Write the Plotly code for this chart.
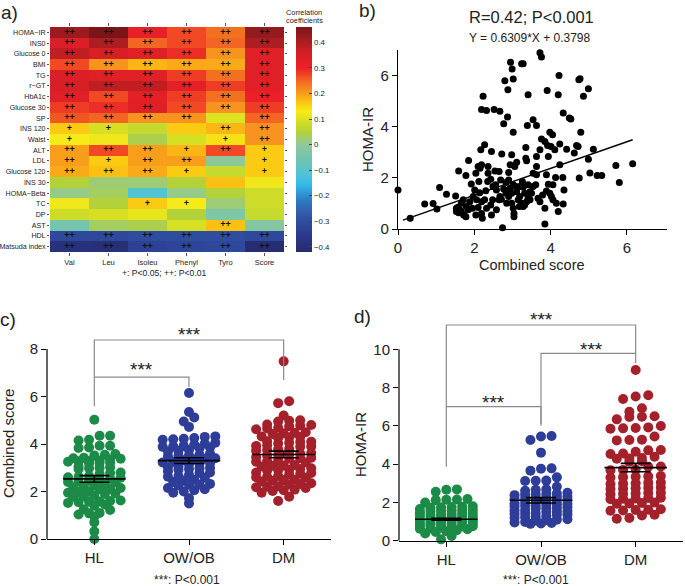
import math
import numpy as np
import plotly.graph_objects as go

W, H = 685, 586
FONT = "Liberation Sans, Arial, Helvetica, sans-serif"

# ---------------- Panel a data ----------------
heat_rows = ["HOMA\u2212IR", "INS0", "Glucose 0", "BMI", "TG", "r\u2212GT", "HbA1c", "Glucose 30", "SP",
             "INS 120", "Waist", "ALT", "LDL", "Glucose 120", "INS 30", "HOMA\u2212Beta", "TC", "DP",
             "AST", "HDL", "Matsuda index"]
heat_cols = ["Val", "Leu", "Isoleu", "Phenyl", "Tyro", "Score"]

r_val = [0.42, 0.34, 0.38, 0.27, 0.34, 0.35, 0.33, 0.28, 0.26, 0.16, 0.13, 0.20, 0.20, 0.19, 0.05, 0.01, 0.12, 0.08, -0.05, -0.31, -0.39]
r_leu = [0.46, 0.40, 0.35, 0.21, 0.33, 0.38, 0.27, 0.29, 0.25, 0.09, 0.12, 0.27, 0.16, 0.17, 0.02, 0.03, 0.05, 0.09, 0.03, -0.31, -0.40]
r_isoleu = [0.31, 0.25, 0.33, 0.18, 0.33, 0.38, 0.32, 0.33, 0.21, 0.07, 0.04, 0.20, 0.20, 0.19, 0.02, -0.11, 0.16, 0.11, 0.04, -0.30, -0.33]
r_phenyl = [0.27, 0.27, 0.29, 0.19, 0.28, 0.32, 0.28, 0.27, 0.21, 0.16, 0.09, 0.18, 0.20, 0.16, 0.05, 0.01, 0.13, 0.05, 0.09, -0.30, -0.32]
r_tyro = [0.24, 0.25, 0.21, 0.19, 0.24, 0.28, 0.24, 0.21, 0.10, 0.18, 0.14, 0.27, 0.00, 0.07, 0.17, 0.05, 0.02, -0.03, 0.17, -0.30, -0.31]
r_score = [0.43, 0.40, 0.33, 0.33, 0.33, 0.33, 0.30, 0.28, 0.25, 0.21, 0.21, 0.16, 0.16, 0.16, 0.12, 0.08, 0.08, 0.07, -0.02, -0.31, -0.41]

s_val = ["++"] * 9 + ["+", "+", "++", "++", "++", "", "", "", "", "", "++", "++"]
s_leu = ["++"] * 9 + ["+", "", "++", "+", "++", "", "", "", "", "", "++", "++"]
s_isoleu = ["++"] * 9 + ["", "", "++", "++", "++", "", "", "+", "", "", "++", "++"]
s_phenyl = ["++"] * 9 + ["", "", "+", "++", "+", "", "", "+", "", "", "++", "++"]
s_tyro = ["++"] * 8 + ["", "++", "+", "++", "", "", "", "", "", "", "++", "++", "++"]
s_score = ["++"] * 9 + ["++", "++", "+", "+", "+", "", "", "", "", "", "++", "++"]

cbar_ticks = [-0.4, -0.3, -0.2, -0.1, 0, 0.1, 0.2, 0.3, 0.4]
z_min, z_max = -0.42, 0.46
cs_vals = [-0.42, -0.35, -0.28, -0.22, -0.16, -0.12, -0.06, 0.0, 0.05, 0.09, 0.13, 0.17, 0.21, 0.25, 0.30, 0.36, 0.41, 0.46]
cs_cols = ["#262b6c", "#2b3a8f", "#3155a6", "#2f78bf", "#32b8ea", "#4fc3d8", "#6fc3b2", "#8ec89a", "#b3d23a",
           "#d6df22", "#f7ea1a", "#fcc012", "#f7931e", "#f26522", "#ec2027", "#d31f26", "#a51d21", "#7c1518"]

# ---------------- Panel b data ----------------
b_x = [0.00, 0.32, 0.70, 0.92, 1.02, 1.09, 1.27, 1.51, 1.59, 1.53, 1.85, 1.78, 1.92, 2.04, 2.10, 2.17, 2.27,
       2.23, 2.19, 2.32, 2.52, 2.67, 2.77, 2.87, 2.80, 2.88, 2.95, 2.99, 3.02, 3.24, 3.28, 3.72, 3.76, 3.41,
       3.02, 3.39, 3.63, 3.54, 3.91, 4.22, 4.20, 4.33, 4.49, 4.53, 4.74, 4.77, 4.86, 4.99, 4.79, 4.68, 4.72,
       4.62, 4.75, 4.99, 5.03, 5.12, 5.22, 5.34, 5.71, 5.80, 6.15, 3.98, 4.05, 3.76, 3.85, 3.92, 4.01, 4.24,
       4.42, 4.11, 3.72, 3.94, 3.63, 3.35, 3.35, 3.37, 4.24, 3.11, 3.06, 2.98, 2.94, 2.72, 2.90, 3.02, 3.09,
       2.83, 2.90, 2.69, 2.65, 2.54, 2.36, 2.36, 2.19, 2.15, 2.35, 2.43, 2.49, 2.56, 2.58, 2.77, 2.67, 2.71,
       2.83, 2.85, 2.98, 3.02, 3.04, 3.04, 3.11, 3.19, 3.15, 3.24, 3.18, 3.28, 3.32, 3.37, 3.41, 3.46, 3.50,
       3.54, 3.61, 3.41, 3.32, 3.19, 3.26, 3.54, 3.63, 3.63, 3.89, 3.94, 3.89, 3.98, 4.02, 4.06, 4.15, 4.33,
       4.35, 4.20, 4.13, 4.32, 3.85, 3.85, 2.74, 3.79, 4.06, 2.01, 2.06, 2.19, 2.27, 2.10, 2.19, 2.32, 2.21,
       2.04, 2.45, 2.43, 2.48, 2.58, 1.88, 1.79, 1.71, 1.66, 1.57, 1.62, 1.53, 1.59, 1.66, 1.72, 1.78, 1.84,
       1.95, 1.97, 2.14, 2.30, 2.65, 2.90, 2.98, 2.94, 3.28, 3.46, 3.67, 3.72, 2.12, 2.45]
b_y = [1.53, 0.42, 0.98, 1.00, 0.78, 1.62, 1.36, 1.29, 2.27, 0.81, 2.68, 2.09, 1.76, 2.18, 2.44, 3.10, 3.29,
       5.19, 4.67, 4.63, 4.67, 4.60, 4.12, 4.38, 5.80, 5.45, 6.52, 6.26, 5.87, 6.46, 6.46, 6.89, 6.73, 5.25,
       3.78, 4.05, 4.05, 4.27, 5.42, 6.00, 5.25, 4.54, 4.34, 4.30, 5.84, 5.88, 5.19, 5.48, 3.78, 3.27, 3.23,
       2.97, 1.99, 2.73, 2.19, 3.12, 2.09, 2.09, 2.48, 1.82, 2.55, 3.78, 3.69, 3.52, 3.42, 3.27, 3.23, 3.32,
       3.12, 3.10, 3.10, 2.84, 2.84, 3.19, 2.77, 2.67, 2.51, 2.61, 2.44, 2.90, 2.51, 2.93, 2.21, 1.73, 1.66,
       1.82, 1.92, 1.92, 2.25, 2.27, 2.18, 2.44, 2.51, 2.38, 1.86, 1.95, 1.66, 1.73, 1.53, 1.56, 1.27, 1.16,
       1.40, 1.01, 1.01, 0.81, 0.61, 0.48, 1.46, 1.27, 1.14, 1.01, 0.88, 0.88, 0.94, 1.07, 1.20, 1.14, 1.40,
       1.66, 1.73, 1.73, 1.40, 1.66, 1.86, 2.18, 2.44, 2.12, 2.12, 1.75, 1.49, 1.40, 1.27, 1.14, 1.01, 0.98,
       1.53, 0.68, 2.01, 2.01, 0.81, 0.20, 0.05, 1.33, 1.73, 1.53, 1.14, 1.07, 1.14, 0.84, 0.61, 0.81, 0.42,
       0.55, 0.55, 0.94, 1.14, 0.75, 1.07, 0.88, 1.14, 1.01, 0.85, 0.75, 0.68, 0.64, 0.68, 0.55, 0.48, 0.75,
       0.81, 1.27, 1.42, 1.50, 1.14, 1.27, 1.40, 1.60, 1.63, 1.46, 1.20, 1.07, 1.86, 3.03]
fit_x = [0.13, 6.15]
fit_y = [0.35, 3.49]

# ---------------- Panels c & d data ----------------
groups = ["HL", "OW/OB", "DM"]
group_colors = ["#1b8b47", "#2e3d98", "#a4202b"]

c_hl = [5.02, 4.35, 4.35, 4.18, 4.15, 3.93, 3.93, 3.85, 3.83, 3.58, 3.55, 3.52, 3.42, 3.40, 3.38, 3.35,
        3.30, 3.28, 3.27, 3.25, 3.22, 3.20, 3.18, 3.05, 3.02, 3.00, 2.98, 2.95, 2.80, 2.78, 2.75,
        2.65, 2.62, 2.60, 2.58, 2.55, 2.52, 2.45, 2.42, 2.40, 2.38, 2.30, 2.25, 2.20, 2.18, 2.15, 2.12, 2.10,
        2.00, 1.98, 1.95, 1.92, 1.90, 1.82, 1.80, 1.78, 1.62, 1.60, 1.58, 1.57, 1.55, 1.52, 1.45, 1.40,
        1.25, 1.22, 1.10, 1.08, 1.03, 0.95, 0.70, 0.32, 0.00]
c_ow = [6.15, 5.35, 5.12, 4.95, 4.72, 4.32, 4.30, 4.25, 4.22, 4.20, 4.18, 4.05, 4.02, 3.98,
        3.92, 3.90, 3.88, 3.85, 3.82, 3.75, 3.72, 3.68, 3.60, 3.55, 3.52, 3.50, 3.48,
        3.40, 3.38, 3.35, 3.32, 3.25, 3.22, 3.20, 3.18, 3.15, 3.05, 3.02, 3.00, 2.98, 2.95, 2.92,
        2.85, 2.80, 2.78, 2.70, 2.65, 2.62, 2.58, 2.50, 2.45, 2.40, 2.32, 2.30, 2.28, 2.25,
        2.15, 2.10, 2.05, 2.00, 1.95, 1.72, 1.50]
c_dm = [7.48, 5.80, 5.72, 5.20, 5.00, 4.98, 4.95, 4.82, 4.80, 4.78, 4.75, 4.68, 4.65, 4.62,
        4.50, 4.47, 4.45, 4.42, 4.32, 4.30, 4.28, 4.25, 4.12, 4.10, 4.08, 4.05, 4.02,
        3.95, 3.92, 3.90, 3.88, 3.80, 3.78, 3.75, 3.72, 3.62, 3.60, 3.58, 3.55, 3.52,
        3.45, 3.42, 3.40, 3.38, 3.30, 3.28, 3.25, 3.22, 3.12, 3.10, 3.08, 3.05,
        2.98, 2.95, 2.92, 2.90, 2.88, 2.80, 2.78, 2.75, 2.72, 2.65, 2.62, 2.60, 2.58,
        2.50, 2.48, 2.45, 2.42, 2.35, 2.32, 2.30, 2.22, 2.20, 2.18, 2.15, 2.08, 2.05, 2.02,
        1.95, 1.78, 1.60]
c_mean = [2.53, 3.30, 3.56]
c_sem = [0.14, 0.12, 0.14]

d_hl = [2.68, 2.66, 2.56, 2.18, 2.15, 2.14, 2.12, 1.99, 1.80, 1.78, 1.76, 1.75, 1.72,
        1.65, 1.62, 1.60, 1.58, 1.56, 1.55, 1.48, 1.45, 1.43, 1.40, 1.38, 1.36, 1.35,
        1.30, 1.28, 1.25, 1.22, 1.20, 1.18, 1.15, 1.12, 1.10, 1.08, 1.06, 1.05, 1.02,
        1.00, 0.98, 0.95, 0.93, 0.90, 0.88, 0.86, 0.85, 0.82, 0.80, 0.78, 0.76, 0.75,
        0.70, 0.68, 0.65, 0.62, 0.60, 0.55, 0.50, 0.45, 0.38, 0.25, 0.07]
d_ow = [5.47, 5.44, 5.26, 4.60, 3.78, 3.76, 3.66, 3.31, 3.14, 3.13, 3.12,
        2.82, 2.68, 2.66, 2.61, 2.50, 2.47, 2.45, 2.42, 2.40, 2.38,
        2.30, 2.28, 2.25, 2.22, 2.20, 2.18, 2.12, 2.10, 2.08, 2.05, 2.02,
        1.95, 1.92, 1.90, 1.88, 1.85, 1.82, 1.78, 1.75, 1.72, 1.70, 1.68,
        1.60, 1.58, 1.55, 1.52, 1.50, 1.45, 1.42, 1.40, 1.38, 1.35,
        1.28, 1.25, 1.22, 1.20, 1.12, 1.10, 1.08, 1.05, 0.98, 0.95, 0.92, 0.90, 0.88]
d_dm = [8.92, 7.60, 7.53, 7.40, 6.92, 6.74, 6.50, 6.48, 6.46, 6.34,
        5.99, 5.92, 5.89, 5.87, 5.85, 5.44, 5.28, 5.26, 5.24,
        4.74, 4.72, 4.65, 4.56, 4.53, 4.39, 4.32, 4.30, 4.28, 4.15, 4.13,
        3.88, 3.86, 3.72, 3.70, 3.68,
        3.36, 3.34, 3.32, 3.30, 3.38, 3.02, 3.00, 2.98, 3.04, 2.96,
        2.76, 2.74, 2.72, 2.78, 2.70, 2.49, 2.47, 2.45, 2.51, 2.43,
        2.23, 2.21, 2.19, 2.25, 2.17, 1.97, 1.95, 1.93, 1.99,
        1.62, 1.60, 1.58, 1.64, 1.56, 1.36, 1.32, 1.19, 1.15]
d_mean = [1.12, 2.11, 3.82]
d_sem = [0.05, 0.14, 0.22]

# significance brackets: [x_left, x_right, y_top, y_left_end, y_right_end]
c_brackets = [[0, 2, 8.38, 5.60, 6.70], [0, 1, 6.82, 6.82, 6.40]]
c_stars = [[1.0, 8.84], [0.5, 7.33]]
d_brackets = [[0, 2, 11.27, 3.87, 9.27], [1, 2, 9.79, 6.00, 9.79], [0, 1, 7.00, 7.00, 6.10]]
d_stars = [[1.0, 11.8], [1.53, 10.25], [0.5, 7.48]]


def row_offsets(values, row_h, spacing_px, x_px, max_n):
    """Prism-like scatter-dot layout: close values share a row, spread horizontally."""
    vals = np.asarray(values, float)
    order = np.argsort(-vals, kind="stable")
    off = np.zeros(len(vals))
    rows, cur, start = [], [], None
    for i in order:
        if start is None or start - vals[i] > row_h or len(cur) >= max_n:
            if cur:
                rows.append(cur)
            cur, start = [i], vals[i]
        else:
            cur.append(i)
    if cur:
        rows.append(cur)
    for r in rows:
        n = len(r)
        rs = sorted(r, key=lambda k: vals[k])
        for k, idx in enumerate(rs):
            off[idx] = (k - (n - 1) / 2.0) * spacing_px / x_px
    return off


def P(x, y):
    return x / W, 1 - y / H


fig = go.Figure()

# ---- heatmap ----
cols_r = [r_val, r_leu, r_isoleu, r_phenyl, r_tyro, r_score]
cols_s = [s_val, s_leu, s_isoleu, s_phenyl, s_tyro, s_score]
z = [[cols_r[j][i] for j in range(len(heat_cols))] for i in range(len(heat_rows))]
colorscale = [[(v - z_min) / (z_max - z_min), c] for v, c in zip(cs_vals, cs_cols)]
fig.add_trace(go.Heatmap(
    z=z, x=list(range(len(heat_cols))), y=list(range(len(heat_rows))),
    zmin=z_min, zmax=z_max, colorscale=colorscale, xaxis="x", yaxis="y", showscale=True,
    colorbar=dict(x=296 / W, xanchor="left", xpad=0, ypad=0, y=1 - 27 / H, yanchor="top", len=225 / H,
                  lenmode="fraction", thickness=16, thicknessmode="pixels", outlinewidth=0,
                  tickvals=cbar_ticks, ticktext=[("\u2212" if t < 0 else "") + ("%g" % abs(t)) for t in cbar_ticks],
                  ticks="inside", ticklen=3, tickcolor="#444", tickfont=dict(size=7.8, family=FONT, color="#222"))))
tx, ty, tt = [], [], []
for j in range(len(heat_cols)):
    for i in range(len(heat_rows)):
        if cols_s[j][i]:
            tx.append(j)
            ty.append(i)
            tt.append("<b>" + cols_s[j][i] + "</b>")
fig.add_trace(go.Scatter(x=tx, y=ty, text=tt, mode="text", xaxis="x", yaxis="y",
                         textfont=dict(size=9, family=FONT, color="#111"), hoverinfo="skip", showlegend=False))

# ---- scatter b ----
fig.add_trace(go.Scatter(x=b_x, y=b_y, mode="markers", xaxis="x2", yaxis="y2", cliponaxis=False,
                         marker=dict(size=7, color="black"), showlegend=False))
fig.add_trace(go.Scatter(x=fit_x, y=fit_y, mode="lines", xaxis="x2", yaxis="y2",
                         line=dict(color="black", width=1.4), showlegend=False))

# ---- c & d ----
panels = [
    ("x3", "y3", [c_hl, c_ow, c_dm], c_mean, c_sem, 94.5, [10.5, 10.5, 11.0], [6, 6, 6], 0.2, c_brackets, c_stars),
    ("x4", "y4", [d_hl, d_ow, d_dm], d_mean, d_sem, 94.0, [10.5, 10.5, 12.5], [6, 6, 5], 0.22, d_brackets, d_stars),
]
annotations = []
for xa, ya, data, means, sems, xpx, spacing, maxn, rowh, brackets, stars in panels:
    for gi, vals in enumerate(data):
        off = row_offsets(vals, rowh, spacing[gi], xpx, maxn[gi])
        fig.add_trace(go.Scatter(x=gi + off, y=vals, mode="markers", xaxis=xa, yaxis=ya,
                                 marker=dict(size=10, color=group_colors[gi], line=dict(width=0)),
                                 showlegend=False, cliponaxis=False))
    for gi in range(len(groups)):
        fig.add_trace(go.Scatter(x=[gi - 0.33, gi + 0.33], y=[means[gi], means[gi]], mode="lines",
                                 xaxis=xa, yaxis=ya, line=dict(color="black", width=1.6), showlegend=False))
        fig.add_trace(go.Scatter(x=[gi], y=[means[gi]], mode="markers", xaxis=xa, yaxis=ya,
                                 marker=dict(size=1, color="rgba(0,0,0,0)"),
                                 error_y=dict(type="data", array=[sems[gi]], width=15, thickness=1.6, color="black"),
                                 showlegend=False))
    for xl, xr, yt, yle, yre in brackets:
        fig.add_trace(go.Scatter(x=[xl, xl, xr, xr], y=[yle, yt, yt, yre], mode="lines", xaxis=xa, yaxis=ya,
                                 line=dict(color="#8a8a8a", width=1.2), showlegend=False, hoverinfo="skip"))
    for sx, sy in stars:
        annotations.append(dict(x=sx, y=sy, xref=xa, yref=ya, text="***", showarrow=False,
                                font=dict(size=19, family=FONT, color="#222"), yshift=-5))

# ---- text ----
def ann(text, x, y, size, angle=0, color="#222", xanchor="center"):
    px_, py_ = P(x, y)
    annotations.append(dict(x=px_, y=py_, xref="paper", yref="paper", text=text, showarrow=False,
                            xanchor=xanchor, yanchor="middle", textangle=angle,
                            font=dict(size=size, family=FONT, color=color)))

ann("a)", -1, 13, 19, xanchor="left")
ann("b)", 357, 11, 19, xanchor="left")
ann("c)", -2, 319, 19, xanchor="left")
ann("d)", 352, 316, 19, xanchor="left")
ann("Correlation", 304, 13, 7.4)
ann("coefficients", 304, 21, 7.4)
ann("+: P&lt;0.05; ++: P&lt;0.01", 164, 273, 8.6)
ann("R=0.42; P&lt;0.001", 531, 17, 16.5)
ann("Y = 0.6309*X + 0.3798", 530, 38, 12)
ann("Combined score", 532, 265, 14.5)
ann("HOMA-IR", 367, 140, 15, angle=-90)
ann("Combined score", 9, 444, 15, angle=-90)
ann("HOMA-IR", 360, 445, 15, angle=-90)
ann("***: P&lt;0.001", 187, 580, 12)
ann("***: P&lt;0.001", 536, 580, 12)

ax_common = dict(showgrid=False, zeroline=False, ticks="outside", tickcolor="black", tickwidth=1.2,
                 ticklen=5, tickfont=dict(size=15, family=FONT, color="#222"), linecolor="black", linewidth=1.2,
                 automargin=False)
heat_x = dict(showgrid=False, zeroline=False, ticks="outside", ticklen=3, tickcolor="#555", tickwidth=1,
              tickfont=dict(size=7.5, family=FONT, color="#222"), mirror="ticks", showline=False,
              automargin=False)
heat_y = dict(showgrid=False, zeroline=False, ticks="outside", ticklen=2, tickcolor="#555", tickwidth=1,
              tickfont=dict(size=7.1, family=FONT, color="#222"), mirror="ticks", showline=False,
              automargin=False)

c_top = 9.3
d_top = 12.3
fig.update_layout(
    width=W, height=H, margin=dict(l=0, r=0, t=0, b=0, pad=0), autosize=False,
    paper_bgcolor="white", plot_bgcolor="white", showlegend=False,
    font=dict(family=FONT, color="#222"),
    xaxis=dict(domain=[50 / W, 284 / W], range=[-0.5, 5.5], tickvals=list(range(6)), ticktext=heat_cols,
               anchor="y", **heat_x),
    yaxis=dict(domain=[1 - 252 / H, 1 - 27 / H], range=[20.5, -0.5], tickvals=list(range(21)),
               ticktext=heat_rows, anchor="x", **heat_y),
    xaxis2=dict(domain=[398 / W, 667 / W], range=[0, 7.05], tickvals=[0, 2, 4, 6], anchor="y2",
                showline=True, **ax_common),
    yaxis2=dict(domain=[1 - 229 / H, 1 - 50 / H], range=[0, 7], tickvals=[0, 2, 4, 6], anchor="x2",
                showline=True, **ax_common),
    xaxis3=dict(domain=[47 / W, 331 / W], range=[-0.5, 2.5], tickvals=[0, 1, 2], ticktext=groups,
                anchor="y3", showline=True, **ax_common),
    yaxis3=dict(domain=[1 - 539 / H, 1 - (539 - c_top * 23.75) / H], range=[0, c_top],
                tickvals=[0, 2, 4, 6, 8], anchor="x3", showline=False, **ax_common),
    xaxis4=dict(domain=[399 / W, 683 / W], range=[-0.5, 2.5], tickvals=[0, 1, 2], ticktext=groups,
                anchor="y4", showline=True, **ax_common),
    yaxis4=dict(domain=[1 - 540.7 / H, 1 - (540.7 - d_top * 19.14) / H], range=[0, d_top],
                tickvals=[0, 2, 4, 6, 8, 10], anchor="x4", showline=False, **ax_common),
    annotations=annotations,
    shapes=[
        dict(type="line", xref="x3 domain", yref="y3", x0=0, x1=0, y0=0, y1=8, line=dict(color="black", width=1.2)),
        dict(type="line", xref="x4 domain", yref="y4", x0=0, x1=0, y0=0, y1=10, line=dict(color="black", width=1.2)),
    ],
)

fig.write_html("out.html", config={"displayModeBar": False},
               post_script="document.body.style.margin='0px';")
